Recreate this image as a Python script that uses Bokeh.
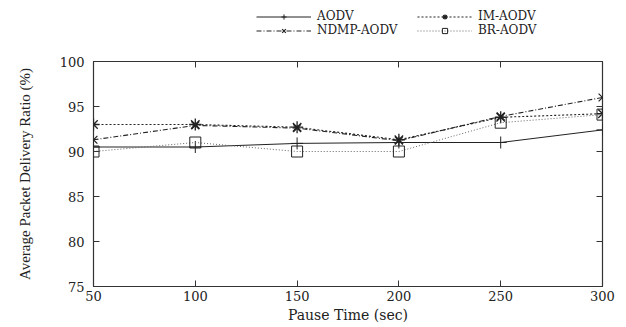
from bokeh.plotting import figure
from bokeh.layouts import column
from bokeh.models import Range1d, LinearAxis, Legend, LegendItem, FixedTicker
from bokeh.embed import file_html
from bokeh.resources import INLINE

pause = [50, 100, 150, 200, 250, 300]
aodv = [90.5, 90.5, 90.9, 91.0, 91.0, 92.4]
im_aodv = [93.0, 93.0, 92.7, 91.3, 93.8, 94.2]
ndmp_aodv = [91.3, 92.9, 92.6, 91.2, 93.9, 96.0]
br_aodv = [90.0, 91.0, 90.0, 90.0, 93.2, 94.1]
x_ticks = [50, 100, 150, 200, 250, 300]
y_ticks = [75, 80, 85, 90, 95, 100]
names = ["AODV", "IM-AODV", "NDMP-AODV", "BR-AODV"]

TICKFONT = "DejaVu Serif"
FONT = "Liberation Serif"
c = "#222222"
styles = [
    dict(line=dict(line_color=c, line_width=1), mk=dict(marker="cross", size=12, line_color=c, line_width=1)),
    dict(line=dict(line_color=c, line_width=1.1, line_dash="2 2"), mk=dict(marker="asterisk", size=12, line_color=c, line_width=1.3)),
    dict(line=dict(line_color=c, line_width=1.1, line_dash="5 2 1 2"), mk=dict(marker="x", size=11, line_color=c, line_width=1.2)),
    dict(line=dict(line_color="#666666", line_width=1, line_dash="1 2"), mk=dict(marker="square", size=11, line_color=c, fill_color=None, line_width=1)),
]
series = [aodv, im_aodv, ndmp_aodv, br_aodv]

p = figure(width=618, height=270, output_backend="svg", toolbar_location=None,
           x_range=Range1d(50, 300), y_range=Range1d(75, 100),
           min_border_left=93, min_border_right=16, min_border_top=6, min_border_bottom=38)
p.xgrid.visible = False
p.ygrid.visible = False
p.outline_line_color = "#333333"
p.outline_line_width = 1.2

for ax, ticks in ((p.xaxis[0], x_ticks), (p.yaxis[0], y_ticks)):
    ax.ticker = FixedTicker(ticks=ticks)
    ax.axis_line_color = None
    ax.major_tick_in = 6
    ax.major_tick_out = 0
    ax.minor_tick_line_color = None
    ax.major_tick_line_color = "#333333"
    ax.major_label_text_font = TICKFONT
    ax.major_label_text_font_size = "13px"
    ax.major_label_text_color = "#222222"
    ax.axis_label_text_font_style = "normal"
    ax.axis_label_text_color = "#222222"

p.xaxis.axis_label = "Pause Time (sec)"
p.xaxis.axis_label_text_font = TICKFONT
p.xaxis.axis_label_text_font_size = "14px"
p.yaxis.axis_label = "Average Packet Delivery Ratio (%)"
p.yaxis.axis_label_text_font = FONT
p.yaxis.axis_label_text_font_size = "15px"
p.xaxis.axis_label_standoff = 3
p.yaxis.axis_label_standoff = 24
p.xaxis.major_label_standoff = 4
p.yaxis.major_label_standoff = 9

right = LinearAxis(ticker=FixedTicker(ticks=y_ticks), axis_line_color=None,
                   major_tick_in=6, major_tick_out=0, minor_tick_line_color=None,
                   major_tick_line_color="#333333", major_label_text_font_size="1px",
                   major_label_text_color=None, major_label_standoff=0)
p.add_layout(right, "right")
top = LinearAxis(ticker=FixedTicker(ticks=x_ticks), axis_line_color=None,
                 major_tick_in=6, major_tick_out=0, minor_tick_line_color=None,
                 major_tick_line_color="#333333", major_label_text_font_size="1px",
                 major_label_text_color=None, major_label_standoff=0)
p.add_layout(top, "above")

for ys, st in zip(series, styles):
    p.line(pause, ys, **st["line"])
    p.scatter(pause, ys, **st["mk"])

# key strip above the plot (gnuplot-style key outside the frame)
lf = figure(width=618, height=55, output_backend="svg", toolbar_location=None,
            x_range=Range1d(-2, -1), y_range=Range1d(-2, -1),
            x_axis_location=None, y_axis_location=None,
            min_border_left=0, min_border_right=0, min_border_top=0, min_border_bottom=0)
lf.outline_line_color = None
lf.xgrid.visible = False
lf.ygrid.visible = False
items = []
for name, ys, st in zip(names, series, styles):
    rl = lf.line(pause, ys, **st["line"])
    rm = lf.scatter(pause, ys, **st["mk"])
    items.append(LegendItem(label=name, renderers=[rl, rm]))

lg = Legend(items=items, orientation="horizontal", ncols=2, location=(163, 18))
lg.label_text_font = TICKFONT
lg.label_text_font_size = "12px"
lg.label_text_color = "#222222"
lg.label_height = 13
lg.label_width = 100
lg.glyph_height = 13
lg.glyph_width = 55
lg.spacing = 0
lg.padding = 0
lg.margin = 0
lg.border_line_color = None
lg.background_fill_alpha = 0
lg.label_standoff = 6
lf.add_layout(lg, "center")

page = column(lf, p, spacing=0)
open("out.html", "w").write(file_html(page, INLINE))
